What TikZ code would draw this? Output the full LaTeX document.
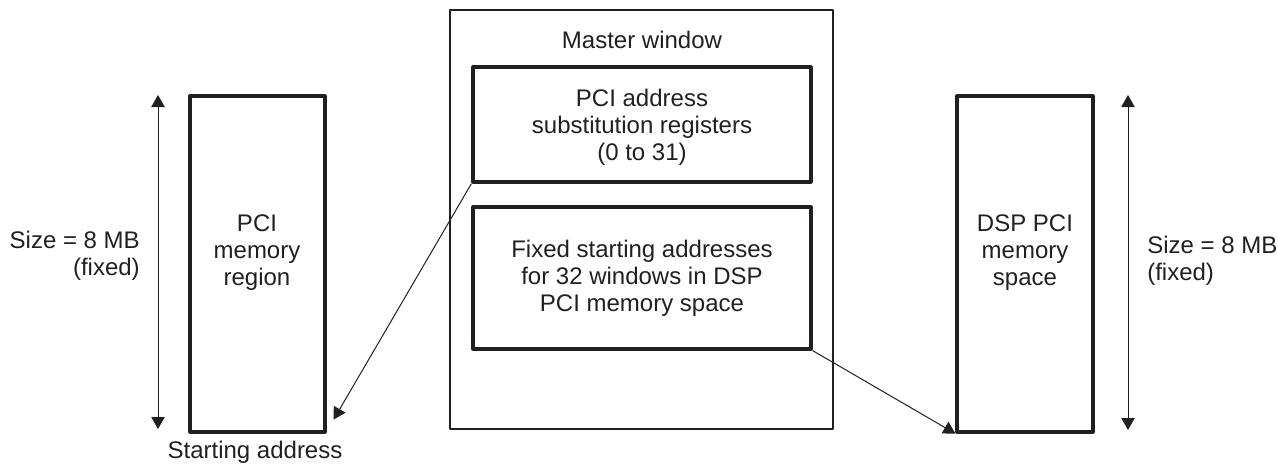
\documentclass[tikz,border=0pt]{standalone}
\usepackage{fontspec}
\setmainfont{Liberation Sans}
\usetikzlibrary{arrows.meta,fit}
\definecolor{ink}{HTML}{231F20}
\begin{document}
\begin{tikzpicture}[x=0.75pt,y=-0.75pt,
  membox/.style={draw=ink, line width=2.4pt, line join=round, inner sep=0pt},
  winbox/.style={draw=ink, line width=1.5pt, line join=round, inner sep=0pt},
  lbl/.style={text=ink, font=\fontsize{18pt}{20.25pt}\selectfont, align=center, inner sep=0pt},
  conn/.style={draw=ink, line width=0.75pt, -{Triangle[length=9pt,width=10pt]}},
  dimline/.style={draw=ink, line width=0.75pt, {Triangle[length=9pt,width=10pt]}-{Triangle[length=9pt,width=10pt]}}]
\useasboundingbox (0,0) rectangle (1278,464);
% boxes
\node[membox, fit={(190,96) (325,432)}] (pci) {};
\node[winbox, fit={(450,10) (833,429)}] (master) {};
\node[membox, fit={(473,67) (811,182)}] (reg) {};
\node[membox, fit={(473,207) (811,349)}] (fixed) {};
\node[membox, fit={(957,96) (1093,432)}] (dsp) {};
% texts
\node[lbl] (pcit) at (257,253) {PCI\\memory\\region};
\node[lbl] (mwt) at (642,40) {Master window};
\node[lbl] (regt) at (642,127) {PCI address\\substitution registers\\(0 to 31)};
\node[lbl] (fixedt) at (642,278) {Fixed starting addresses\\for 32 windows in DSP\\PCI memory space};
\node[lbl] (dspt) at (1025,253) {DSP PCI\\memory\\space};
\node[lbl, align=right, anchor=east] (lsize) at (140,256) {Size = 8 MB\\(fixed)};
\node[lbl, align=left, anchor=west] (rsize) at (1147,261) {Size = 8 MB\\(fixed)};
\node[lbl] (start) at (255,452) {Starting address};
% dimension arrows
\coordinate (l1) at (158,95);
\coordinate (l2) at (158,429);
\coordinate (r1) at (1128,95);
\coordinate (r2) at (1128,430);
\draw[dimline] (l1) -- (l2);
\draw[dimline] (r1) -- (r2);
% connectors
\draw[conn] (reg.south west) -- ([xshift=5.25pt,yshift=10.5pt]pci.south east);
\draw[conn] (fixed.south east) -- (dsp.south west);
\end{tikzpicture}
\end{document}
